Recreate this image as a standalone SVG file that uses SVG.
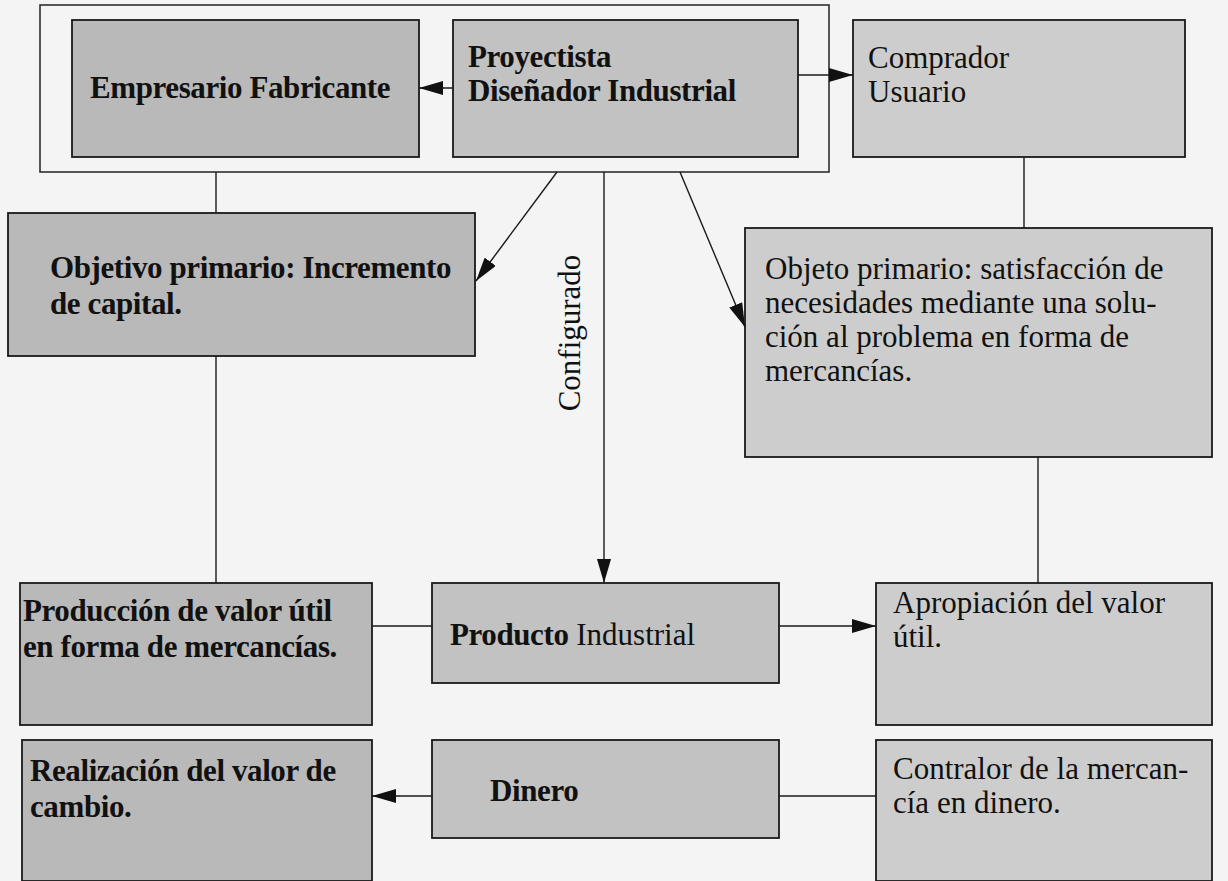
<svg xmlns="http://www.w3.org/2000/svg" width="1228" height="881" viewBox="0 0 1228 881">
<defs>
<marker id="ah" markerUnits="userSpaceOnUse" markerWidth="26" markerHeight="14" refX="24" refY="7" orient="auto">
<path d="M0,0 L24,7 L0,14 Z" fill="#111"/>
</marker>
<style>
.bg{fill:#f4f4f4}
.frame{fill:none;stroke:#222;stroke-width:1.5}
.box{stroke:#1a1a1a;stroke-width:1.8}
.dk{fill:#b9b9b9}
.md{fill:#c2c2c2}
.lt{fill:#cdcdcd}
.t{font-family:"Liberation Serif","Times New Roman",serif;font-size:31px;fill:#111}
.b{font-weight:bold;letter-spacing:-0.4px}
.c{stroke:#1a1a1a;stroke-width:1.4;fill:none}
.ar{marker-end:url(#ah)}
</style>
</defs>
<rect class="bg" x="0" y="0" width="1228" height="881"/>
<rect class="frame" x="40" y="5" width="789" height="167"/>

<g id="empresario">
<rect class="box dk" x="72" y="20" width="347" height="137"/>
<text class="t b" x="90" y="98">Empresario Fabricante</text>
</g>
<g id="proyectista">
<rect class="box md" x="453" y="20" width="345" height="137"/>
<text class="t b" x="468" y="67">Proyectista</text>
<text class="t b" x="468" y="101">Diseñador Industrial</text>
</g>
<g id="comprador">
<rect class="box lt" x="853" y="20" width="332" height="137"/>
<text class="t" x="868" y="68">Comprador</text>
<text class="t" x="868" y="102">Usuario</text>
</g>
<g id="objetivo">
<rect class="box dk" x="8" y="213" width="467" height="143"/>
<text class="t b" x="50" y="278">Objetivo primario: Incremento</text>
<text class="t b" x="50" y="314">de capital.</text>
</g>
<g id="objeto">
<rect class="box lt" x="745" y="228" width="467" height="229"/>
<text class="t" x="765" y="279">Objeto primario: satisfacción de</text>
<text class="t" x="765" y="313">necesidades mediante una solu-</text>
<text class="t" x="765" y="347">ción al problema en forma de</text>
<text class="t" x="765" y="381">mercancías.</text>
</g>
<g id="produccion">
<rect class="box dk" x="20" y="583" width="352" height="142"/>
<text class="t b" x="23" y="621">Producción de valor útil</text>
<text class="t b" x="23" y="657">en forma de mercancías.</text>
</g>
<g id="producto">
<rect class="box md" x="432" y="583" width="347" height="100"/>
<text class="t" x="450" y="645"><tspan class="b">Producto</tspan> Industrial</text>
</g>
<g id="apropiacion">
<rect class="box lt" x="876" y="583" width="336" height="142"/>
<text class="t" x="893" y="613">Apropiación del valor</text>
<text class="t" x="893" y="647">útil.</text>
</g>
<g id="realizacion">
<rect class="box dk" x="22" y="740" width="350" height="141"/>
<text class="t b" x="30" y="781">Realización del valor de</text>
<text class="t b" x="30" y="817">cambio.</text>
</g>
<g id="dinero">
<rect class="box md" x="432" y="740" width="347" height="98"/>
<text class="t b" x="490" y="801">Dinero</text>
</g>
<g id="contralor">
<rect class="box lt" x="876" y="740" width="336" height="141"/>
<text class="t" x="893" y="779">Contralor de la mercan-</text>
<text class="t" x="893" y="813">cía en dinero.</text>
</g>

<g id="connectors">
<line class="c ar" x1="453" y1="88" x2="419" y2="88"/>
<line class="c ar" x1="798" y1="75" x2="853" y2="75"/>
<line class="c" x1="216" y1="172" x2="216" y2="213"/>
<line class="c" x1="1024" y1="157" x2="1024" y2="228"/>
<line class="c ar" x1="557" y1="172" x2="476" y2="281"/>
<line class="c ar" x1="604" y1="172" x2="604" y2="583"/>
<line class="c ar" x1="680" y1="172" x2="745" y2="327"/>
<line class="c" x1="216" y1="356" x2="216" y2="583"/>
<line class="c" x1="1038" y1="457" x2="1038" y2="583"/>
<line class="c" x1="372" y1="626" x2="432" y2="626"/>
<line class="c ar" x1="779" y1="626" x2="876" y2="626"/>
<line class="c ar" x1="432" y1="796" x2="372" y2="796"/>
<line class="c" x1="779" y1="796" x2="876" y2="796"/>
<text class="t" transform="translate(580,333) rotate(-90)" text-anchor="middle">Configurado</text>
</g>
</svg>
